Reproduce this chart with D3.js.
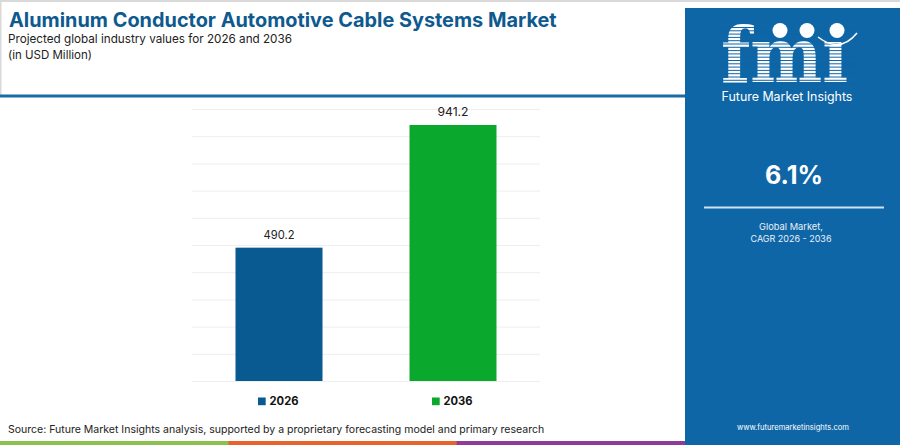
<!DOCTYPE html>
<html>
<head>
<meta charset="utf-8">
<script src="https://cdn.jsdelivr.net/npm/d3@7"></script>
<style>
  html, body { margin: 0; padding: 0; background: #fff; }
  svg { display: block; font-family: "Inter", "Open Sans", sans-serif; }
</style>
</head>
<body>
<div id="chart"></div>
<script>
// chart data
var years = ["2026", "2036"];
var values = [490.2, 941.2];
var barColors = ["#0a5a92", "#0aa82c"];
var gridTicks = [0, 100, 200, 300, 400, 500, 600, 700, 800, 900, 1000];
var cagrLabel = "6.1%";
var stripeColors = ["#8cc152", "#e8632b", "#8e3c97"];

var W = 900, H = 445;
var panelBlue = "#0f66a6";

var svg = d3.select("#chart").append("svg")
    .attr("width", W)
    .attr("height", H);

// shrink or grow a text so it takes the width seen in the picture
function fit(sel, width) {
  var fs = +sel.attr("font-size");
  var w = sel.node().getComputedTextLength();
  if (w > 0) sel.attr("font-size", (fs * width / w).toFixed(2));
  return sel;
}

// frame lines
svg.append("rect").attr("x", 0).attr("y", 0).attr("width", W).attr("height", 2).attr("fill", "#d9d9d9");
svg.append("rect").attr("x", 0).attr("y", 0).attr("width", 1.5).attr("height", 95).attr("fill", "#d9d9d9");

// header
fit(svg.append("text")
    .attr("x", 9).attr("y", 27)
    .attr("font-size", 20).attr("font-weight", 700)
    .attr("fill", "#0e5a8f")
    .text("Aluminum Conductor Automotive Cable Systems Market"), 548);

fit(svg.append("text")
    .attr("x", 8).attr("y", 43)
    .attr("font-size", 12).attr("fill", "#222")
    .text("Projected global industry values for 2026 and 2036"), 284);

fit(svg.append("text")
    .attr("x", 8).attr("y", 59)
    .attr("font-size", 12).attr("fill", "#222")
    .text("(in USD Million)"), 84);

svg.append("rect").attr("x", 0).attr("y", 94.5).attr("width", 686).attr("height", 3).attr("fill", "#1a6ba8");

// scales
var x = d3.scaleBand()
    .domain(years)
    .range([192, 540])
    .paddingInner(0.5)
    .paddingOuter(0.25);

var y = d3.scaleLinear()
    .domain([0, 1000])
    .range([381, 109]);

// gridlines
svg.append("g")
    .attr("transform", "translate(192,0)")
    .call(d3.axisLeft(y).tickValues(gridTicks).tickSize(-348).tickFormat(""))
    .call(function(g) {
      g.select(".domain").remove();
      g.selectAll(".tick line").attr("stroke", "#eeeeee").attr("stroke-width", 1);
    });

// bars
svg.selectAll("rect.bar")
    .data(years)
    .enter().append("rect")
    .attr("class", "bar")
    .attr("x", function(d) { return x(d); })
    .attr("y", function(d, i) { return y(values[i]); })
    .attr("width", x.bandwidth())
    .attr("height", function(d, i) { return y(0) - y(values[i]); })
    .attr("fill", function(d, i) { return barColors[i]; });

// value labels
svg.selectAll("text.val")
    .data(years)
    .enter().append("text")
    .attr("class", "val")
    .attr("x", function(d) { return x(d) + x.bandwidth() / 2; })
    .attr("y", function(d, i) { return y(values[i]) - 8.5; })
    .attr("text-anchor", "middle")
    .attr("font-size", 12).attr("fill", "#222")
    .text(function(d, i) { return values[i].toFixed(1); })
    .each(function() { fit(d3.select(this), 31); });

// legend
var leg = svg.selectAll("g.leg")
    .data(years)
    .enter().append("g")
    .attr("class", "leg")
    .attr("transform", function(d) { return "translate(" + (x(d) + x.bandwidth() / 2 - 21) + ",397.5)"; });

leg.append("rect")
    .attr("width", 7.7).attr("height", 7.7)
    .attr("fill", function(d, i) { return barColors[i]; });

leg.append("text")
    .attr("x", 11.5).attr("y", 7.7)
    .attr("font-size", 12).attr("font-weight", 700).attr("fill", "#111")
    .text(function(d) { return d; })
    .each(function() { fit(d3.select(this), 29); });

// source
fit(svg.append("text")
    .attr("x", 8).attr("y", 433)
    .attr("font-size", 10.5).attr("fill", "#222")
    .text("Source: Future Market Insights analysis, supported by a proprietary forecasting model and primary research"), 537);

// bottom stripe
var stripeX = d3.scaleBand().domain(d3.range(stripeColors.length)).range([0, 685]);
svg.selectAll("rect.stripe")
    .data(stripeColors)
    .enter().append("rect")
    .attr("class", "stripe")
    .attr("x", function(d, i) { return stripeX(i); })
    .attr("y", 441)
    .attr("width", stripeX.bandwidth() + 0.5)
    .attr("height", 4)
    .attr("fill", function(d) { return d; });

// right panel
var panel = svg.append("g");
panel.append("rect")
    .attr("x", 685).attr("y", 8)
    .attr("width", W - 685).attr("height", H - 8)
    .attr("fill", panelBlue);

// logo
var logo = panel.append("g");
logo.append("text")
    .attr("x", 721).attr("y", 82)
    .attr("font-family", "DejaVu Serif")
    .attr("font-weight", 700)
    .attr("font-size", 76)
    .attr("fill", "#fff")
    .attr("textLength", 127)
    .attr("lengthAdjust", "spacingAndGlyphs")
    .text("fmı");

logo.selectAll("line.stripe")
    .data(d3.range(27.5, 84, 3.3))
    .enter().append("line")
    .attr("x1", 715).attr("x2", 860)
    .attr("y1", function(d) { return d; })
    .attr("y2", function(d) { return d; })
    .attr("stroke", panelBlue)
    .attr("stroke-width", 1);

logo.selectAll("circle")
    .data([780, 807, 837])
    .enter().append("circle")
    .attr("cx", function(d) { return d; })
    .attr("cy", 30.5)
    .attr("r", 7.5)
    .attr("fill", "#fff");

logo.append("path")
    .attr("d", "M818,37 Q840,54 857,33")
    .attr("fill", "none")
    .attr("stroke", "#fff")
    .attr("stroke-width", 1.5);

fit(panel.append("text")
    .attr("x", 787).attr("y", 100.5)
    .attr("text-anchor", "middle")
    .attr("font-size", 12.5).attr("fill", "#fff")
    .text("Future Market Insights"), 131);

fit(panel.append("text")
    .attr("x", 794).attr("y", 184)
    .attr("text-anchor", "middle")
    .attr("font-size", 25).attr("font-weight", 700).attr("fill", "#fff")
    .text(cagrLabel), 58);

panel.append("line")
    .attr("x1", 704).attr("x2", 884)
    .attr("y1", 207.5).attr("y2", 207.5)
    .attr("stroke", "#cfe2f1").attr("stroke-width", 2);

fit(panel.append("text")
    .attr("x", 791).attr("y", 229.5)
    .attr("text-anchor", "middle")
    .attr("font-size", 10).attr("fill", "#e8f1f8")
    .text("Global Market,"), 64);

fit(panel.append("text")
    .attr("x", 791).attr("y", 241.5)
    .attr("text-anchor", "middle")
    .attr("font-size", 10).attr("fill", "#e8f1f8")
    .text("CAGR 2026 - 2036"), 81);

fit(panel.append("text")
    .attr("x", 793).attr("y", 430)
    .attr("text-anchor", "middle")
    .attr("font-size", 9).attr("fill", "#fff")
    .text("www.futuremarketinsights.com"), 112);
</script>
</body>
</html>
